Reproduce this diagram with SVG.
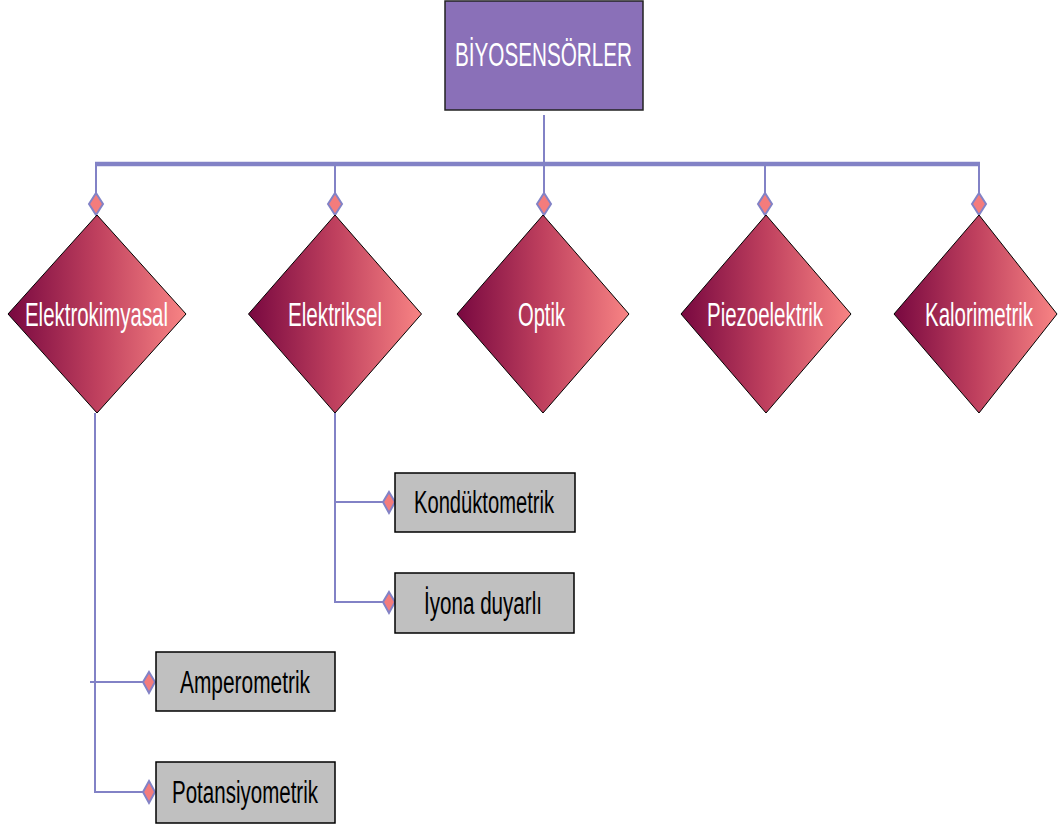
<svg xmlns="http://www.w3.org/2000/svg" width="1060" height="827" viewBox="0 0 1060 827">
<defs>
<linearGradient id="dg" x1="0" y1="0" x2="1" y2="0">
<stop offset="0" stop-color="#780840"/>
<stop offset="0.5" stop-color="#BF405E"/>
<stop offset="1" stop-color="#F88484"/>
</linearGradient>
<style>
.ln{stroke:#8282C6;fill:none;stroke-width:2}
.bus{stroke:#8282C6;fill:none;stroke-width:4.5}
.mk{fill:#F47C7C;stroke:#8282C6;stroke-width:2}
.dia{fill:url(#dg);stroke:#000;stroke-width:1}
.dt{font-family:"Liberation Sans",Arial,sans-serif;font-size:33px;fill:#fff;text-anchor:middle}
.box{fill:#C0C0C0;stroke:#000;stroke-width:1.5}
.bt{font-family:"Liberation Sans",Arial,sans-serif;font-size:31px;fill:#000;text-anchor:middle}
</style>
</defs>
<rect width="1060" height="827" fill="#fff"/>
<g id="connectors">
<line class="ln" x1="544" y1="115" x2="544" y2="164"/>
<line class="bus" x1="95" y1="164" x2="980" y2="164"/>
<polyline class="ln" points="96,164 96,193"/>
<polyline class="ln" points="335,164 335,193"/>
<polyline class="ln" points="544,164 544,193"/>
<polyline class="ln" points="765,164 765,193"/>
<polyline class="ln" points="979,164 979,193"/>
<polygon class="mk" points="96,193 103,204 96,215 89,204"/>
<polygon class="mk" points="335,193 342,204 335,215 328,204"/>
<polygon class="mk" points="544,193 551,204 544,215 537,204"/>
<polygon class="mk" points="765,193 772,204 765,215 758,204"/>
<polygon class="mk" points="979,193 986,204 979,215 972,204"/>
<polyline class="ln" points="95,413 95,792 143,792"/>
<line class="ln" x1="90" y1="682" x2="143" y2="682"/>
<polygon class="mk" points="149,672 155,682 149,693 143,682"/>
<polygon class="mk" points="149,781 155,792 149,803 143,792"/>
<polyline class="ln" points="335,413 335,602 383,602"/>
<line class="ln" x1="335" y1="502" x2="383" y2="502"/>
<polygon class="mk" points="389,492 395,502 389,513 383,502"/>
<polygon class="mk" points="389,592 395,602 389,613 383,602"/>
</g>
<g id="biyosensorler">
<rect x="445" y="1" width="198" height="109" fill="#8A70B8" stroke="#222" stroke-width="1.5"/>
<text class="dt" x="543.5" y="66" textLength="177" lengthAdjust="spacingAndGlyphs">BİYOSENSÖRLER</text>
</g>
<g id="elektrokimyasal">
<polygon class="dia" points="97,215 186,314 97,413 8,314"/>
<text class="dt" x="96.5" y="326" textLength="143" lengthAdjust="spacingAndGlyphs">Elektrokimyasal</text>
</g>
<g id="elektriksel">
<polygon class="dia" points="335,215 421.5,314 335,413 248.5,314"/>
<text class="dt" x="335" y="326" textLength="94" lengthAdjust="spacingAndGlyphs">Elektriksel</text>
</g>
<g id="optik">
<polygon class="dia" points="543,215 629,314 543,413 457,314"/>
<text class="dt" x="541.5" y="326" textLength="47" lengthAdjust="spacingAndGlyphs">Optik</text>
</g>
<g id="piezoelektrik">
<polygon class="dia" points="766,215 851,314 766,413 681,314"/>
<text class="dt" x="765" y="326" textLength="116" lengthAdjust="spacingAndGlyphs">Piezoelektrik</text>
</g>
<g id="kalorimetrik">
<polygon class="dia" points="979,215 1057,314 979,413 894,314"/>
<text class="dt" x="979" y="326" textLength="108" lengthAdjust="spacingAndGlyphs">Kalorimetrik</text>
</g>
<g id="konduktometrik">
<rect class="box" x="395" y="473" width="180" height="59"/>
<text class="bt" x="484" y="513" textLength="140" lengthAdjust="spacingAndGlyphs">Kondüktometrik</text>
</g>
<g id="iyona-duyarli">
<rect class="box" x="395" y="573" width="179" height="60"/>
<text class="bt" x="483" y="614" textLength="118" lengthAdjust="spacingAndGlyphs">İyona duyarlı</text>
</g>
<g id="amperometrik">
<rect class="box" x="156" y="652" width="179" height="59"/>
<text class="bt" x="245" y="693" textLength="130" lengthAdjust="spacingAndGlyphs">Amperometrik</text>
</g>
<g id="potansiyometrik">
<rect class="box" x="156" y="762" width="179" height="61"/>
<text class="bt" x="245" y="803" textLength="146" lengthAdjust="spacingAndGlyphs">Potansiyometrik</text>
</g>
</svg>
